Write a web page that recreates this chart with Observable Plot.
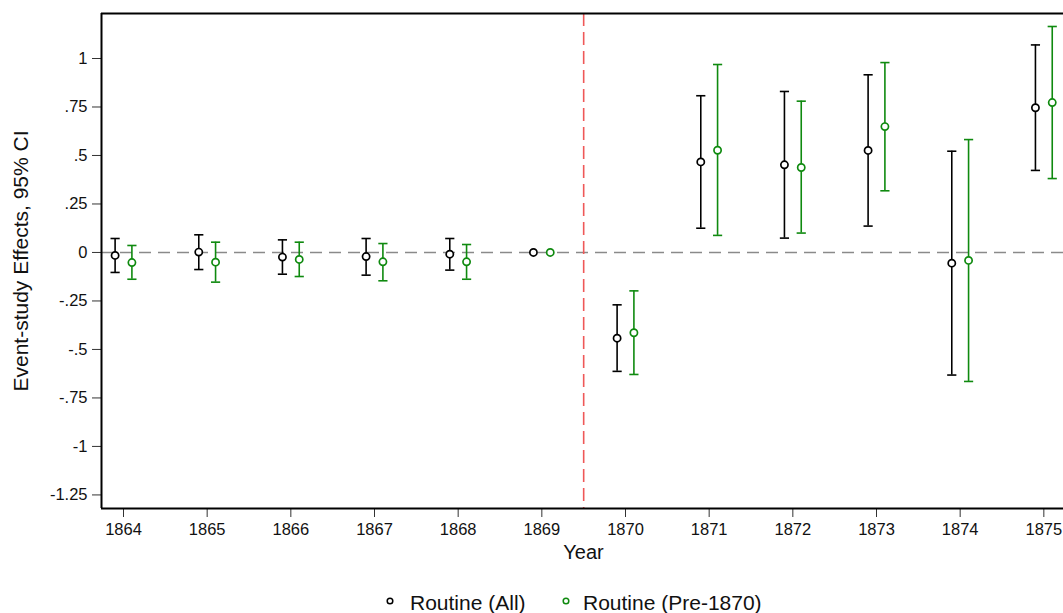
<!DOCTYPE html>
<html>
<head>
<meta charset="utf-8">
<script src="https://cdn.jsdelivr.net/npm/d3@7"></script>
<script src="https://cdn.jsdelivr.net/npm/@observablehq/plot@0.6"></script>
<style>
  html, body { margin: 0; padding: 0; background: white; overflow: hidden; }
  body { font-family: "Liberation Sans", Arial, Helvetica, sans-serif; width: 1063px; height: 613px; }
  #chart svg { display: block; }
  #legend { position: relative; height: 28px; font-size: 21px; color: #111; }
  #legend span { position: absolute; top: 7px; line-height: 21px; white-space: nowrap; }
  #legend svg { position: absolute; top: 12px; }
</style>
</head>
<body>
<div id="chart"></div>
<div id="legend">
  <svg style="left:386px" width="8" height="8"><circle cx="4" cy="4" r="2.8" fill="white" stroke="#000" stroke-width="1.5"/></svg>
  <span style="left:410px">Routine (All)</span>
  <svg style="left:562px" width="8" height="8"><circle cx="4" cy="4" r="2.8" fill="white" stroke="#0f8a0f" stroke-width="1.5"/></svg>
  <span style="left:583px">Routine (Pre-1870)</span>
</div>
<script>
// ---- data ----
const years = [1864, 1865, 1866, 1867, 1868, 1869, 1870, 1871, 1872, 1873, 1874, 1875];

const allEst = [-0.015, 0.002, -0.024, -0.021, -0.009, 0, -0.442, 0.467, 0.452, 0.526, -0.055, 0.746];
const allLo  = [-0.103, -0.088, -0.112, -0.117, -0.091, null, -0.613, 0.125, 0.074, 0.136, -0.632, 0.423];
const allHi  = [0.072, 0.091, 0.065, 0.072, 0.072, null, -0.270, 0.808, 0.830, 0.916, 0.522, 1.070];

const preEst = [-0.052, -0.050, -0.036, -0.048, -0.048, 0, -0.414, 0.527, 0.438, 0.649, -0.041, 0.773];
const preLo  = [-0.138, -0.153, -0.124, -0.146, -0.138, null, -0.629, 0.088, 0.100, 0.318, -0.665, 0.381];
const preHi  = [0.036, 0.053, 0.053, 0.046, 0.041, null, -0.198, 0.969, 0.780, 0.979, 0.582, 1.165];

const seriesNames = ["Routine (All)", "Routine (Pre-1870)"];
const yTicks = [1, 0.75, 0.5, 0.25, 0, -0.25, -0.5, -0.75, -1, -1.25];
const yTickLabels = ["1", ".75", ".5", ".25", "0", "-.25", "-.5", "-.75", "-1", "-1.25"];
const treatmentLine = [1869.5];
const zeroLine = [0];
const xTitle = "Year";
const yTitle = "Event-study Effects, 95% CI";

// ---- build tables ----
const black = "#000000", green = "#0f8a0f";
function table(est, lo, hi, name) {
  return years.map((yr, i) => ({year: yr, est: est[i], lo: lo[i], hi: hi[i], series: name}));
}
const all = table(allEst, allLo, allHi, seriesNames[0]);
const pre = table(preEst, preLo, preHi, seriesNames[1]);
const allBars = all.filter(d => d.lo != null);
const preBars = pre.filter(d => d.lo != null);

const xDomain = [1863.737, 1875.235];
const yDomain = [-1.32, 1.232];
const capSymbol = {
  draw(ctx, size) {
    const r = Math.sqrt(size / Math.PI);
    ctx.moveTo(-r, 0);
    ctx.lineTo(r, 0);
  }
};
const off = 8.4;
const font = "'Liberation Sans', Arial, Helvetica, sans-serif";

function seriesMarks(bars, pts, color, dx) {
  return [
    Plot.ruleX(bars, {x: "year", y1: "lo", y2: "hi", stroke: color, strokeWidth: 1.6, dx}),
    Plot.dot(bars, {x: "year", y: "lo", symbol: capSymbol, r: 4.6, stroke: color, strokeWidth: 1.6, fill: "none", dx}),
    Plot.dot(bars, {x: "year", y: "hi", symbol: capSymbol, r: 4.6, stroke: color, strokeWidth: 1.6, fill: "none", dx}),
    Plot.dot(pts, {x: "year", y: "est", r: 3.6, stroke: color, strokeWidth: 1.7, fill: "white", dx})
  ];
}

const chart = Plot.plot({
  width: 1063,
  height: 585,
  marginLeft: 101,
  marginRight: 0,
  marginTop: 13,
  marginBottom: 77,
  style: {fontFamily: font, fontSize: "16.5px", background: "white", color: "#111"},
  x: {domain: xDomain, axis: null},
  y: {domain: yDomain, axis: null},
  marks: [
    Plot.ruleY(zeroLine, {stroke: "#8a8a8a", strokeWidth: 1.6, strokeDasharray: "12,7"}),
    Plot.ruleX(treatmentLine, {stroke: "#ef5858", strokeWidth: 1.6, strokeDasharray: "13,6"}),
    ...seriesMarks(allBars, all, black, -off),
    ...seriesMarks(preBars, pre, green, off),
    Plot.axisX({ticks: years, tickFormat: d => String(d), tickSize: 9, tickPadding: 6, fontSize: 16.5, stroke: "#333", label: null}),
    Plot.axisY({ticks: yTicks, tickFormat: d => yTickLabels[yTicks.indexOf(d)], tickSize: 9, tickPadding: 5, fontSize: 16.5, stroke: "#333", label: null}),
    Plot.ruleX([xDomain[0]], {stroke: "#000", strokeWidth: 2}),
    Plot.ruleY(yDomain, {stroke: "#000", strokeWidth: 2}),
    Plot.text([xTitle], {frameAnchor: "bottom", dy: 50.6, dx: 1, fontSize: 20, fill: "#111"}),
    Plot.text([yTitle], {frameAnchor: "left", textAnchor: "middle", dx: -80, rotate: -90, fontSize: 21, fill: "#111"})
  ]
});
document.getElementById("chart").appendChild(chart);
</script>
</body>
</html>
